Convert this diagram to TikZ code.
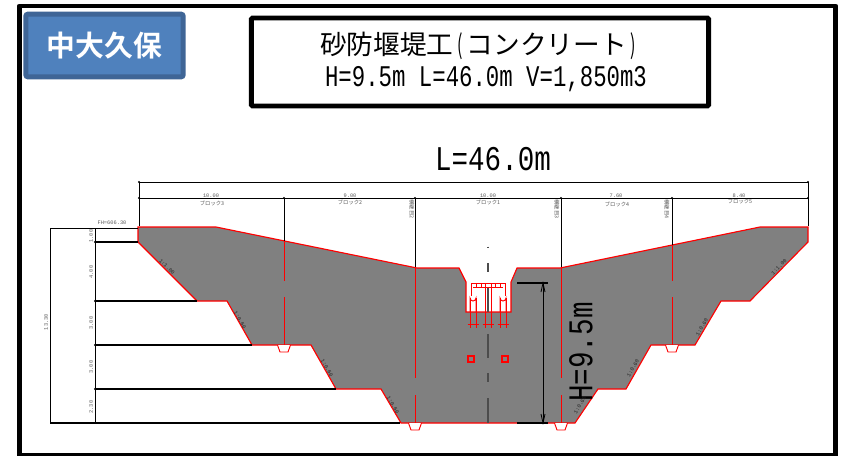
\documentclass[tikz,border=0pt]{standalone}
\usepackage{fontspec}
\setmainfont{Liberation Mono}
\newfontfamily\cjk{Noto Sans CJK JP}
\newfontfamily\cjkb{Noto Sans CJK JP Bold}
\definecolor{damgray}{HTML}{808080}
\definecolor{blfill}{HTML}{4F81BD}
\definecolor{bledge}{HTML}{3F6596}
\definecolor{labgray}{HTML}{5A5A5A}
\tikzset{
 x=0.75pt,y=-0.75pt,
 frameline/.style={draw=black,line width=3.7pt,line join=round},
 dimline/.style={draw=black,line width=0.9pt},
 topdim/.style={draw=black,line width=0.7pt},
 redline/.style={draw=red,line width=0.85pt},
 thinred/.style={draw=red,line width=0.7pt},
 axisline/.style={draw=black!70,line width=0.9pt},
 tiny/.style={text=labgray,inner sep=0pt,font=\fontsize{4}{4.5}\selectfont},
 tinyj/.style={text=labgray,inner sep=0pt,font=\cjk\fontsize{4}{4.5}\selectfont},
 slopelab/.style={text=black!85,inner sep=0pt,font=\fontsize{4}{4.5}\selectfont},
 bigmono/.style={inner sep=0pt,text=black},
}
\begin{document}
\begin{tikzpicture}
\useasboundingbox (0,0) rectangle (841,456);
\fill[white] (0,0) rectangle (841,456);
\draw[frameline] (19.5,6) -- (835.5,6) -- (835.5,455.5) -- (19.5,455.5) -- cycle;
% badge
\node[draw=bledge,fill=blfill,line width=3.7pt,rounded corners=1.5pt,minimum width=118pt,minimum height=47pt,inner sep=0pt,text=white,font=\cjkb\fontsize{21.6}{24}\selectfont] (badge) at (104.5,45.5) {中大久保};
% title
\node[draw=black,line width=3.7pt,rounded corners=1pt,minimum width=343pt,minimum height=66pt,inner sep=0pt] (titlebox) at (480,62) {};
\node[inner sep=0pt,font=\cjk\fontsize{20}{20}\selectfont] (t1) at (480,46) {砂防堰堤工\makebox[10pt]{\scalebox{0.6}[1]{(}}コンクリート\makebox[10pt]{\scalebox{0.6}[1]{)}}};
\node[bigmono] (t2) at (486,79) {\scalebox{0.745}[1]{\fontsize{22.5}{24}\selectfont H=9.5m L=46.0m V=1,850m3}};
\node[bigmono] (ltext) at (493,159) {\scalebox{0.795}[1]{\fontsize{26}{28}\selectfont L=46.0m}};
% dimension lines
\coordinate (tl) at (139,182); \coordinate (tr) at (808,182);
\coordinate (ml) at (139,198); \coordinate (mr) at (808,198);
\coordinate (cl) at (139,226); \coordinate (cr) at (808,226);
\draw[topdim] (cl) -- (tl) -- (tr) -- (cr);
\draw[topdim] (ml) -- (mr);
\foreach \x in {139,284,415,561,672,808} \fill (\x,198) circle (0.9pt);
\fill (139,182) circle (0.9pt); \fill (808,182) circle (0.9pt);
% dam
\coordinate (d1) at (138,227);
\filldraw[fill=damgray,redline] (d1) -- (216,227) -- (417,268) -- (459,268) -- (466,282) -- (466,312) -- (511,312) -- (511,282) -- (517,268) -- (560,268) -- (760,227) -- (808,227) -- (808,242) -- (750,301) -- (721,301) -- (695,345) -- (651,345) -- (626,389) -- (598,389) -- (575,423) -- (401,423) -- (381,389) -- (336,389) -- (311,345) -- (252,345) -- (227,301) -- (197,301) -- (138,242) -- cycle;
% left dimensions
\draw[topdim] (50,423) -- (50,228) -- (138,228);
\draw[topdim] (95,228) -- (95,423);
\draw[dimline] (95,242) -- (138,242);
\draw[dimline] (95,301) -- (197,301);
\draw[dimline] (95,345) -- (252,345);
\draw[dimline] (95,389) -- (336,389);
\draw[dimline] (50,423) -- (400,423);
\foreach \y in {242,301,345,389} \fill (95,\y) circle (0.9pt);
% joints
\draw[topdim] (284,198) -- (284,241);
\draw[topdim] (672,198) -- (672,245);
\draw[topdim] (415,198) -- (415,267);
\draw[topdim] (561,198) -- (561,267);
\draw[thinred] (284,241) -- (284,281) (284,297) -- (284,345);
\draw[thinred] (672,245) -- (672,281) (672,297) -- (672,345);
\draw[thinred] (415,268) -- (415,378) (415,395) -- (415,423);
\draw[thinred] (561,268) -- (561,378) (561,395) -- (561,423);
\foreach \x/\y in {284/345,672/345,415/423,561/423}
  \draw[thinred,fill=white] (\x-6.5,\y) -- (\x-4,\y+7) -- (\x+4,\y+7) -- (\x+6.5,\y);
% centre axis
\draw[axisline] (488,246.5) -- (488,248) (488,263) -- (488,272) (488,288) -- (488,312) (488,334) -- (488,358) (488,373) -- (488,382) (488,398) -- (488,423);
% notch details
\draw[thinred] (471,296) -- (471,283) -- (505,283) -- (505,296);
\draw[thinred] (473,287) -- (503,287);
\foreach \x in {476,481,495,500} \draw[thinred] (\x,283) -- (\x,288);
\foreach \x in {473,488,503} {
  \draw[thinred] (\x-3,298) -- (\x-3,328) (\x+3,298) -- (\x+3,328);
  \draw[redline,line width=1.1pt] (\x-5.5,324.5) -- (\x+5.5,324.5);
}
\foreach \x in {473,503} \draw[thinred] (\x-3,312) -- (\x-3,298) arc (180:0:3) -- (\x+3,312);
\draw[thinred] (485,284) -- (485,298) (491,284) -- (491,298);
\foreach \x in {471,505} {
  \draw[redline] (\x-3,356) rectangle (\x+3,362);
}
% height dimension
\coordinate (ht) at (543,283); \coordinate (hb) at (543,423);
\draw[dimline] (517,283) -- (548,283);
\draw[dimline] (517,423) -- (548,423);
\draw[draw=black,line width=0.6pt] (ht) -- (hb);
\draw[draw=black,line width=0.6pt] (541,292) -- (ht) -- (545,292);
\draw[draw=black,line width=0.6pt] (541,414) -- (hb) -- (545,414);
\node[bigmono,rotate=90] (htext) at (581,352) {\scalebox{0.795}[1]{\fontsize{26}{28}\selectfont H=9.5m}};
% tiny labels
\node[tiny] (s1) at (211,196) {10.00};
\node[tiny] (s2) at (350,196) {9.00};
\node[tiny] (s3) at (488,196) {10.00};
\node[tiny] (s4) at (616,196) {7.60};
\node[tiny] (s5) at (739,196) {8.40};
\node[tinyj] (b3) at (212,203) {ブロック3};
\node[tinyj] (b2) at (350,202) {ブロック2};
\node[tinyj] (b1) at (488,202) {ブロック1};
\node[tinyj] (b4) at (617,204) {ブロック4};
\node[tinyj] (b5) at (740,201) {ブロック5};
\node[tinyj,rotate=-90] (j2) at (412,209) {横継目2};
\node[tinyj,rotate=-90] (j3) at (557,209) {横継目3};
\node[tinyj,rotate=-90] (j4) at (667,209) {横継目4};
\node[tiny] (fh) at (112,223) {FH=606.30};
\node[tiny,rotate=90] (v1) at (91,236) {1.00};
\node[tiny,rotate=90] (v2) at (91,272) {4.00};
\node[tiny,rotate=90] (v3) at (91,323) {3.00};
\node[tiny,rotate=90] (v4) at (91,367) {3.00};
\node[tiny,rotate=90] (v5) at (91,407) {2.30};
\node[tiny,rotate=90] (v6) at (46,322) {13.30};
\node[slopelab,rotate=-45] (k1) at (167,267) {1:1.00};
\node[slopelab,rotate=-60] (k2) at (240,320) {1:0.60};
\node[slopelab,rotate=-60] (k3) at (327,368) {1:0.60};
\node[slopelab,rotate=-60] (k4) at (393,405) {1:0.60};
\node[slopelab,rotate=45] (k5) at (779,267) {1:1.00};
\node[slopelab,rotate=60] (k6) at (702,327) {1:0.60};
\node[slopelab,rotate=60] (k7) at (633,368) {1:0.60};
\node[slopelab,rotate=60] (k8) at (580,405) {1:0.60};
\end{tikzpicture}
\end{document}
